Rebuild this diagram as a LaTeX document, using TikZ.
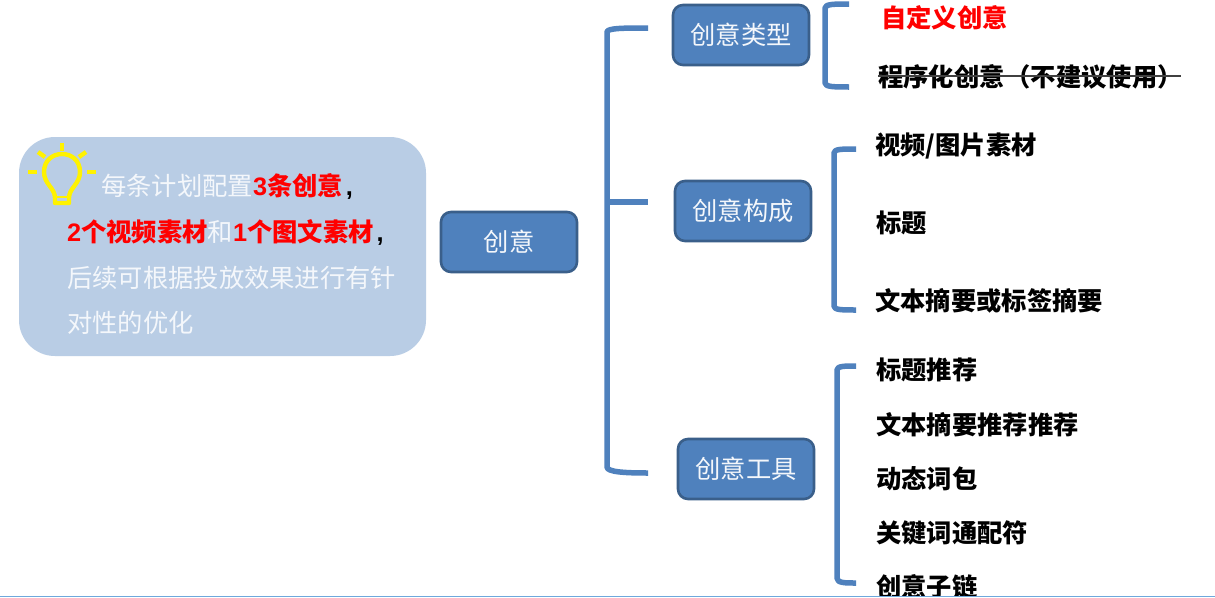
\documentclass[tikz,border=0pt]{standalone}
\usepackage{fontspec}
\setmainfont{Liberation Sans}
\newfontfamily\cjk[Scale=1.0]{Noto Sans CJK SC}
\newcommand{\lat}[1]{{\fontspec{Liberation Sans}\bfseries #1}}
\definecolor{boxfill}{HTML}{4F81BD}
\definecolor{boxline}{HTML}{3A5F8A}
\definecolor{blob}{HTML}{B9CDE5}
\definecolor{brk}{HTML}{4F81BD}
\definecolor{bottomrule}{HTML}{6FA8DC}
\definecolor{softwhite}{HTML}{F4F7FB}
\tikzset{
  x=1pt,y=-1pt,
  boxnode/.style={draw=boxline,line width=2.6pt,fill=boxfill,rounded corners=10pt,minimum width=136pt,minimum height=60pt,inner sep=0pt,text=softwhite,font=\cjk\fontsize{25.3}{25.3}\selectfont},
  brkline/.style={draw=brk,line width=5.5pt,line join=round},
  item/.style={anchor=west,inner sep=0pt,font=\cjk\bfseries\fontsize{25.3}{25.3}\selectfont,text=black},
  note/.style={anchor=west,inner sep=0pt,font=\cjk\fontsize{25.3}{25.3}\selectfont,text=softwhite},
  bulbline/.style={draw=yellow,line width=4.4pt,line join=round},
}
\begin{document}
\begin{tikzpicture}
\useasboundingbox (0,0) rectangle (1215,597);
\fill[white] (0,0) rectangle (1215,597);
\begin{scope}
\clip (0,0) rectangle (1215,595.5);
% left note
\node[fill=blob,rounded corners=36pt,minimum width=407pt,minimum height=219pt,inner sep=0pt] (notebox) at (222.5,246.5) {};
\node[note] (l1) at (101,186) {每条计划配置\textcolor{red}{\bfseries\lat{3}条创意}\textcolor{black}{\kern3pt\lat{,}}};
\node[note] (l2) at (67,232) {\textcolor{red}{\bfseries\lat{2}个视频素材}和\textcolor{red}{\bfseries\lat{1}个图文素材}\textcolor{black}{\kern3pt\lat{,}}};
\node[note] (l3) at (67,278) {后续可根据投放效果进行有针};
\node[note] (l4) at (67,323) {对性的优化};
% bulb
\draw[bulbline] (55,198) .. controls (55,188) and (44,184) .. (44,172) .. controls (44,148) and (80,148) .. (80,172) .. controls (80,184) and (69,188) .. (69,198) -- (69,203) -- (55,203) -- cycle;
\draw[draw=yellow,line width=2.4pt] (56,197) -- (68,197);
\draw[bulbline] (62,143) -- (62,151);
\draw[bulbline] (38,152) -- (45,157);
\draw[bulbline] (86,152) -- (79,157);
\draw[bulbline] (28,172) -- (37,172);
\draw[bulbline] (87,172) -- (96,172);
% boxes
\node[boxnode] (root) at (509,242) {\raisebox{-1pt}{创意}};
\node[boxnode] (type) at (741,35) {\raisebox{-1pt}{创意类型}};
\node[boxnode] (comp) at (743,211) {\raisebox{-1pt}{创意构成}};
\node[boxnode] (tool) at (746,469) {\raisebox{-1pt}{创意工具}};
% main bracket
\coordinate (ma) at (648,28);
\coordinate (mb) at (607,32);
\coordinate (mc) at (607,467);
\coordinate (md) at (648,473);
\coordinate (me) at (607,202);
\coordinate (mf) at (648,202);
\draw[brkline] (ma) .. controls (625,28) and (607,28) .. (mb) -- (mc) .. controls (607,472) and (625,473) .. (md);
\draw[brkline] (me) -- (mf);
% bracket type
\coordinate (ta) at (849,4);
\coordinate (tb) at (825,8);
\coordinate (tc) at (825,83);
\coordinate (td) at (849,87);
\draw[brkline] (ta) .. controls (835,4) and (825,4) .. (tb) -- (tc) .. controls (825,87) and (835,87) .. (td);
% bracket composition
\coordinate (ca) at (856,149);
\coordinate (cb) at (834,153);
\coordinate (cc) at (834,306);
\coordinate (cd) at (856,310);
\draw[brkline] (ca) .. controls (842,149) and (834,149) .. (cb) -- (cc) .. controls (834,310) and (842,310) .. (cd);
% bracket tools
\coordinate (ua) at (856,366);
\coordinate (ub) at (837,370);
\coordinate (uc) at (837,578);
\coordinate (ud) at (856,583);
\draw[brkline] (ua) .. controls (845,366) and (837,366) .. (ub) -- (uc) .. controls (837,583) and (845,583) .. (ud);
% items
\node[item,text=red] (t1) at (881,18) {自定义创意};
\node[item] (t2) at (878,76.5) {程序化创意\kern1pt（不建议使用）};
\coordinate (sa) at (878,76);
\coordinate (sb) at (1181,76);
\draw[draw=black!75,line width=1.2pt] (sa) -- (sb);
\node[item] (c1) at (875,146) {视频/图片素材};
\node[item] (c2) at (876,223) {标题};
\node[item] (c3) at (875,301) {文本摘要或标签摘要};
\node[item] (u1) at (876,370) {标题推荐};
\node[item] (u2) at (876,425) {文本摘要推荐推荐};
\node[item] (u3) at (876,479) {动态词包};
\node[item] (u4) at (876,533) {关键词通配符};
\node[item] (u5) at (876,587) {创意子链};
\end{scope}
\fill[bottomrule] (0,595.5) rectangle (1215,597);
\end{tikzpicture}
\end{document}
